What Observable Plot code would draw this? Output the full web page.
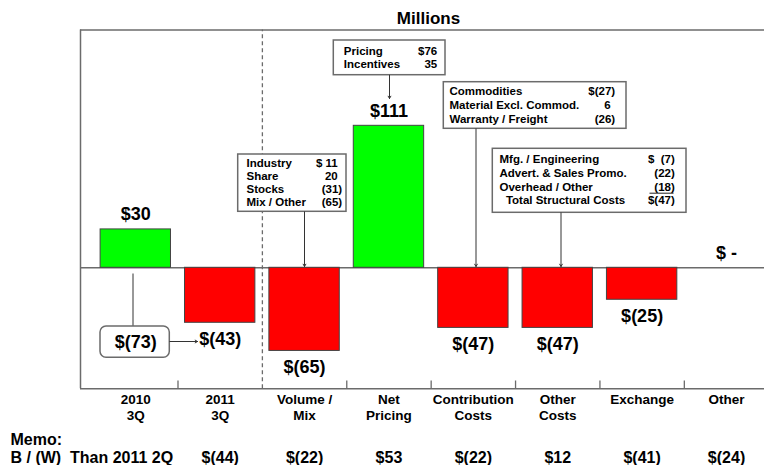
<!DOCTYPE html>
<html><head><meta charset="utf-8">
<script src="https://cdn.jsdelivr.net/npm/d3@7"></script>
<script src="https://cdn.jsdelivr.net/npm/@observablehq/plot@0.6"></script>
<style>html,body{margin:0;padding:0;background:#fff;} svg{display:block;}</style>
</head><body><div id="chart"></div>
<script>
// ---- data ----
const categories = ["2010\n3Q", "2011\n3Q", "Volume /\nMix", "Net\nPricing", "Contribution\nCosts", "Other\nCosts", "Exchange", "Other"];
const values = [30, -43, -65, 111, -47, -47, -25, 0];
const valueLabels = ["$30", "$(43)", "$(65)", "$111", "$(47)", "$(47)", "$(25)", "$ -"];
const memoLabels = ["", "$(44)", "$(22)", "$53", "$(22)", "$12", "$(41)", "$(24)"];
const priorLabel = "$(73)";
const volumeItems = ["Industry", "Share", "Stocks", "Mix / Other"];
const volumeValues = ["$ 11", "20", "(31)", "(65)"];
const pricingItems = ["Pricing", "Incentives"];
const pricingValues = ["$76", "35"];
const contribItems = ["Commodities", "Material Excl. Commod.", "Warranty / Freight"];
const contribValues = ["$(27)", "6", "(26)"];
const otherItems = ["Mfg. / Engineering", "Advert. & Sales Promo.", "Overhead / Other", "\u00a0 Total Structural Costs"];
const otherValues = ["$\u00a0 (7)", "(22)", "(18)", "$(47)"];
const title = "Millions";
const memoTitle = "Memo:";
const memoRow = "B / (W)\u00a0 Than 2011 2Q";

// ---- layout ----
const W = 764, H = 465, mL = 80, mR = 0, mT = 29.5, mB = 76.7;
const xDomain = [-0.6553, 7.450];
const yDomain = [-94.6, 185.9];
const px2x = p => xDomain[0] + (p - mL) / (W - mL - mR) * (xDomain[1] - xDomain[0]);
const px2y = p => yDomain[0] + (H - mB - p) / (H - mB - mT) * (yDomain[1] - yDomain[0]);
const FONT = "Liberation Sans, Arial, Helvetica, sans-serif";
const LINE = "#6b6b6b";

const table = categories.map((c, i) => ({i, cat: c, value: values[i], label: valueLabels[i], memo: memoLabels[i]}));
const boundaries = d3.range(categories.length - 1).filter(i => i !== 1).map(i => i + 0.5);

// callout boxes (pixel layout)
const callouts = [
  {items: volumeItems, vals: volumeValues, box: [237.7, 346, 154, 211.3], lx: 246, vr: 341.7, ly0: 163.3, step: 13, conn: [304, 211.3, 266]},
  {items: pricingItems, vals: pricingValues, box: [333.3, 445, 40, 74.7], lx: 343.3, vr: 436.7, ly0: 51, step: 13.3, conn: [389, 74.7, 98], noParen: true},
  {items: contribItems, vals: contribValues, box: [443.3, 626, 81.7, 128.3], lx: 449, vr: 614.7, ly0: 90.7, step: 14, conn: [475.5, 128.3, 266]},
  {items: otherItems, vals: otherValues, box: [492.3, 686, 148.3, 212.3], lx: 499, vr: 674.3, ly0: 159, step: 13.7, conn: [560.5, 212.3, 266], underline: [2, 649, 673, 192.7]}
];

const calloutMarks = [];
for (const c of callouts) {
  const [bx1, bx2, by1, by2] = c.box;
  calloutMarks.push(Plot.rect([c], {x1: px2x(bx1), x2: px2x(bx2), y1: px2y(by1), y2: px2y(by2), fill: "white", stroke: LINE, strokeWidth: 1.5}));
  const rows = c.items.map((t, k) => ({t, v: c.vals[k], k}));
  calloutMarks.push(Plot.text(rows, {x: px2x(c.lx), y: d => px2y(c.ly0 + d.k * c.step), text: "t", textAnchor: "start", fontSize: 11.5, fontWeight: "bold", fontFamily: FONT, fill: "black"}));
  calloutMarks.push(Plot.text(rows, {x: d => px2x(c.vr - (c.noParen || d.v.endsWith(")") ? 0 : 4.5)), y: d => px2y(c.ly0 + d.k * c.step), text: "v", textAnchor: "end", fontSize: 11.5, fontWeight: "bold", fontFamily: FONT, fill: "black"}));
  if (c.underline) {
    const [, ux1, ux2, uy] = c.underline;
    calloutMarks.push(Plot.link([c], {x1: px2x(ux1), x2: px2x(ux2), y1: px2y(uy), y2: px2y(uy), stroke: "#222", strokeWidth: 1}));
  }
  const [cx, cy1, cy2] = c.conn;
  calloutMarks.push(Plot.arrow([c], {x1: px2x(cx), x2: px2x(cx), y1: px2y(cy1), y2: px2y(cy2), stroke: "#333", strokeWidth: 1, headLength: 4}));
}

const plot = Plot.plot({
  width: W, height: H,
  marginLeft: mL, marginRight: mR, marginTop: mT, marginBottom: mB,
  x: {type: "linear", domain: xDomain, axis: null},
  y: {type: "linear", domain: yDomain, axis: null},
  color: {type: "identity"},
  style: {fontFamily: FONT, background: "white", overflow: "visible"},
  marks: [
    // dashed divider
    Plot.ruleX([1.5], {y1: yDomain[0], y2: yDomain[1], stroke: LINE, strokeWidth: 1.3, strokeDasharray: "4,3"}),
    // zero line
    Plot.ruleY([0], {stroke: LINE, strokeWidth: 1.5}),
    // bars
    Plot.rect(table.filter(d => d.value !== 0), {
      x1: d => d.i - 0.417, x2: d => d.i + 0.417, y1: 0, y2: "value",
      fill: d => d.value > 0 ? "#00ff00" : "#ff0000", stroke: "#444", strokeWidth: 1
    }),
    // frame
    Plot.ruleY([yDomain[1], yDomain[0]], {stroke: LINE, strokeWidth: 1.5}),
    Plot.ruleX([xDomain[0]], {y1: yDomain[0], y2: yDomain[1], stroke: LINE, strokeWidth: 1.5}),
    // ticks
    Plot.ruleX(boundaries, {y1: yDomain[0], y2: px2y(380.5), stroke: LINE, strokeWidth: 1.3}),
    // value labels
    Plot.text(table.filter(d => d.value >= 0), {x: "i", y: "value", text: "label", dy: -15, fontSize: 18, fontWeight: "bold", fill: "black"}),
    Plot.text(table.filter(d => d.value < 0), {x: "i", y: "value", text: "label", dy: 16, fontSize: 18, fontWeight: "bold", fill: "black"}),
    // category labels
    Plot.text(table, {x: "i", y: yDomain[0], text: "cat", dy: 4, lineAnchor: "top", lineHeight: 1.19, fontSize: 13.5, fontWeight: "bold", fill: "black"}),
    // memo
    Plot.text(table.filter(d => d.memo), {x: "i", y: px2y(457.5), text: "memo", fontSize: 16, fontWeight: "bold", fill: "black"}),
    Plot.text([memoTitle], {x: px2x(10), y: px2y(439.5), text: d => d, textAnchor: "start", fontSize: 16, fontWeight: "bold", fill: "black"}),
    Plot.text([memoRow], {x: px2x(10), y: px2y(457.5), text: d => d, textAnchor: "start", fontSize: 16, fontWeight: "bold", fill: "black"}),
    // title
    Plot.text([title], {x: px2x(428), y: px2y(18), text: d => d, fontSize: 17, fontWeight: "bold", fill: "black"}),
    // prior-year box
    Plot.link([0], {x1: px2x(132.5), x2: px2x(132.5), y1: px2y(273), y2: px2y(326), stroke: "#333", strokeWidth: 1}),
    Plot.rect([priorLabel], {x1: px2x(100), x2: px2x(169.3), y1: px2y(326), y2: px2y(357.3), rx: 6, fill: "white", stroke: LINE, strokeWidth: 1.5}),
    Plot.text([priorLabel], {x: 0, y: px2y(341.5), text: d => d, fontSize: 18, fontWeight: "bold", fill: "black"}),
    Plot.arrow([0], {x1: px2x(169.3), x2: px2x(197), y1: px2y(341), y2: px2y(341), stroke: "#333", strokeWidth: 1, headLength: 4}),
    ...calloutMarks
  ]
});
document.getElementById("chart").appendChild(plot);
</script>
</body></html>
